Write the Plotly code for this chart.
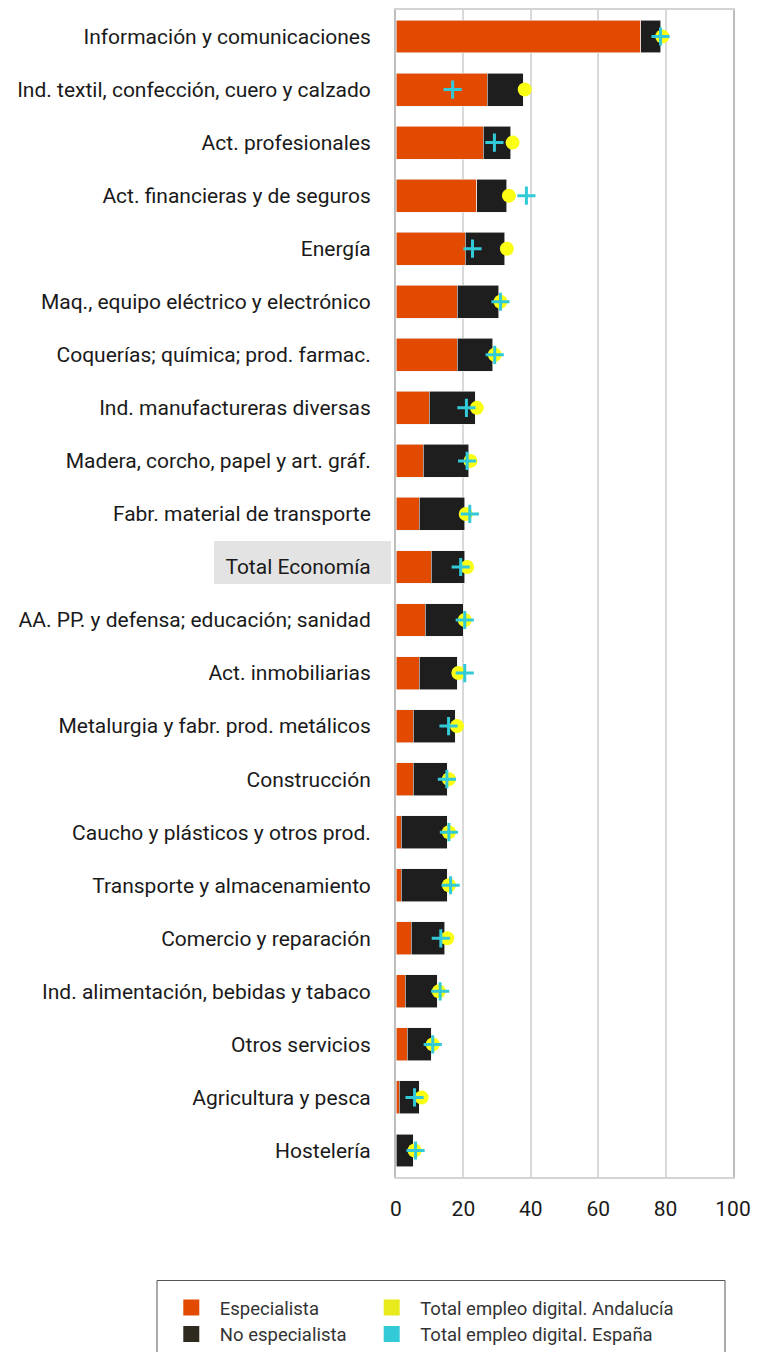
import plotly.graph_objects as go

categories = [
    "Información y comunicaciones",
    "Ind. textil, confección, cuero y calzado",
    "Act. profesionales",
    "Act. financieras y de seguros",
    "Energía",
    "Maq., equipo eléctrico y electrónico",
    "Coquerías; química; prod. farmac.",
    "Ind. manufactureras diversas",
    "Madera, corcho, papel y art. gráf.",
    "Fabr. material de transporte",
    "Total Economía",
    "AA. PP. y defensa; educación; sanidad",
    "Act. inmobiliarias",
    "Metalurgia y fabr. prod. metálicos",
    "Construcción",
    "Caucho y plásticos y otros prod.",
    "Transporte y almacenamiento",
    "Comercio y reparación",
    "Ind. alimentación, bebidas y tabaco",
    "Otros servicios",
    "Agricultura y pesca",
    "Hostelería",
]
especialista = [72.6, 27.1, 25.9, 24.0, 20.5, 18.2, 18.2, 9.9, 8.1, 6.9, 10.4,
                8.7, 6.9, 5.1, 5.1, 1.6, 1.6, 4.5, 2.8, 3.4, 1.0, 0.1]
no_especialista = [5.9, 10.6, 8.2, 8.9, 11.8, 12.3, 10.5, 13.6, 13.5, 13.5, 10.0,
                   11.2, 11.3, 12.5, 10.1, 13.6, 13.6, 10.0, 9.4, 7.1, 5.9, 5.0]
total_andalucia = [79.0, 38.2, 34.6, 33.5, 32.9, 31.0, 29.3, 24.0, 22.1, 20.7, 21.1,
                   20.4, 18.5, 18.1, 15.7, 15.7, 15.7, 15.2, 12.7, 10.9, 7.6, 5.5]
total_espana = [78.5, 16.8, 29.2, 38.7, 22.7, 31.0, 29.3, 20.9, 21.1, 21.9, 19.2,
                20.4, 20.4, 15.6, 15.1, 15.7, 16.2, 13.3, 13.1, 10.9, 5.5, 5.8]
x_ticks = [0, 20, 40, 60, 80, 100]

ORANGE = "#E24A00"
DARK = "#1E1E1E"
DARK_LEG = "#2E2A1E"
YELLOW = "#FAFF14"
YELLOW_LEG = "#E8EA1C"
CYAN = "#33CAD8"

n = len(categories)
hl = categories.index("Total Economía")

fig = go.Figure()
fig.add_trace(go.Bar(y=categories, x=especialista, orientation="h", marker_color=ORANGE,
                     marker_line=dict(color="#F0F0F0", width=0.6), showlegend=False, name="Especialista"))
fig.add_trace(go.Bar(y=categories, x=no_especialista, orientation="h", marker_color=DARK,
                     marker_line=dict(color="#F0F0F0", width=0.6), showlegend=False, name="No especialista"))
fig.add_trace(go.Scatter(y=categories, x=total_andalucia, mode="markers", cliponaxis=False,
                         marker=dict(color=YELLOW, size=14, symbol="circle"), showlegend=False,
                         name="Total empleo digital. Andalucía"))
fig.add_trace(go.Scatter(y=categories, x=total_espana, mode="markers", cliponaxis=False,
                         marker=dict(color=CYAN, size=13, symbol="cross-thin",
                                     line=dict(color=CYAN, width=3)), showlegend=False,
                         name="Total empleo digital. España"))

# legend entries (square swatches), one small legend per entry for exact 2x2 placement
legend_items = [("Especialista", ORANGE, "legend"), ("No especialista", DARK_LEG, "legend2"),
                ("Total empleo digital. Andalucía", YELLOW_LEG, "legend3"),
                ("Total empleo digital. España", CYAN, "legend4")]
for name, col, leg in legend_items:
    fig.add_trace(go.Scatter(x=[None], y=[None], mode="markers", name=name, legend=leg,
                             marker=dict(symbol="square", size=16, color=col)))

leg_common = dict(yanchor="middle", xanchor="left", orientation="v", itemwidth=47,
                  traceorder="normal", font=dict(size=18.5, color="#333333"),
                  bgcolor="rgba(0,0,0,0)", tracegroupgap=0)
col_x = [-0.692, -0.0973]
row_y = [-0.1122, -0.1350]

fig.update_layout(
    width=757, height=1344,
    margin=dict(l=388, r=32, t=2, b=175, autoexpand=False),
    barmode="stack", bargap=0.38,
    plot_bgcolor="white", paper_bgcolor="white",
    font=dict(family="Roboto", size=20, color="#1A1A1A"),
    xaxis=dict(range=[0, 100], tickvals=x_ticks, ticktext=[str(v) for v in x_ticks],
               showgrid=True, gridcolor="#D9D9D9", gridwidth=2, zeroline=False,
               showline=True, linecolor="#D4D4D4", linewidth=2, mirror=True,
               ticks="outside", ticklen=12, tickcolor="rgba(0,0,0,0)",
               tickfont=dict(size=21, color="#1A1A1A")),
    yaxis=dict(categoryorder="array", categoryarray=categories, range=[n - 0.5, -0.5],
               showgrid=False, showline=True, linecolor="#BDBDBD", linewidth=2, mirror=True,
               ticks="outside", ticklen=19, tickcolor="rgba(0,0,0,0)",
               tickfont=dict(size=21, color="#1A1A1A")),
    legend=dict(x=col_x[0], y=row_y[0], **leg_common),
    legend2=dict(x=col_x[0], y=row_y[1], **leg_common),
    legend3=dict(x=col_x[1], y=row_y[0], **leg_common),
    legend4=dict(x=col_x[1], y=row_y[1], **leg_common),
    shapes=[
        dict(type="rect", xref="paper", yref="y", x0=-0.540, x1=-0.015,
             y0=hl - 0.49, y1=hl + 0.32,
             fillcolor="#E3E3E3", line=dict(width=0), layer="below"),
        dict(type="rect", xref="paper", yref="paper", x0=-0.7092, x1=0.9763, y0=-0.0887, y1=-0.17,
             fillcolor="rgba(0,0,0,0)", line=dict(color="#555555", width=1)),
    ],
)

fig.write_html("out.html")
